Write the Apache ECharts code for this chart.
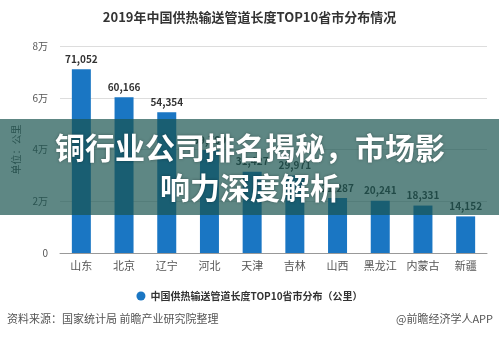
<!DOCTYPE html>
<html>
<head>
<meta charset="utf-8">
<style>
  html, body { margin: 0; padding: 0; background: #fff; }
  #chart { width: 499px; height: 337px; }
</style>
<script src="https://cdn.jsdelivr.net/npm/echarts@6/dist/echarts.min.js"></script>
</head>
<body>
<div id="chart"></div>
<script>
// 2019 heating pipeline length, top 10 provinces (km)
const provinces = ['山东', '北京', '辽宁', '河北', '天津', '吉林', '山西', '黑龙江', '内蒙古', '新疆'];
const pipelineKm = [71052, 60166, 54354, 39760, 31427, 29971, 21287, 20241, 18331, 14152];
const yTicks = [0, 20000, 40000, 60000, 80000];
const yTickLabels = ['0', '2万', '4万', '6万', '8万'];

const FONT = '"Noto Sans CJK SC", "Noto Sans", sans-serif';
const chart = echarts.init(document.getElementById('chart'), null, { renderer: 'canvas' });

chart.setOption({
  backgroundColor: '#ffffff',
  animation: false,
  textStyle: { fontFamily: FONT },
  title: {
    text: '2019年中国供热输送管道长度TOP10省市分布情况',
    left: 'center',
    top: 6,
    textStyle: { fontFamily: FONT, fontSize: 13, fontWeight: 'bold', color: '#333' }
  },
  legend: {
    data: ['中国供热输送管道长度TOP10省市分布（公里）'],
    left: 'center',
    top: 286,
    icon: 'circle',
    itemWidth: 9,
    itemHeight: 9,
    itemGap: 6,
    textStyle: { fontFamily: FONT, fontSize: 10, fontWeight: 'bold', color: '#333' }
  },
  grid: { left: 60, right: 12, top: 46, bottom: 84, containLabel: false },
  xAxis: {
    type: 'category',
    data: provinces,
    axisLine: { lineStyle: { color: '#999' } },
    axisTick: { alignWithLabel: true, length: 4, lineStyle: { color: '#999' } },
    axisLabel: { interval: 0, color: '#555', fontSize: 11, margin: 7, fontFamily: FONT }
  },
  yAxis: {
    type: 'value',
    min: yTicks[0],
    max: yTicks[yTicks.length - 1],
    interval: yTicks[1] - yTicks[0],
    name: '单位：公里',
    nameLocation: 'middle',
    nameRotate: 90,
    nameGap: 38,
    nameTextStyle: { color: '#555', fontSize: 10, fontFamily: FONT },
    axisLine: { show: false },
    axisTick: { show: false },
    splitLine: { lineStyle: { color: '#ddd', width: 1 } },
    axisLabel: {
      color: '#555', fontSize: 10, margin: 12, fontFamily: FONT,
      formatter: v => yTickLabels[yTicks.indexOf(v)]
    }
  },
  series: [{
    name: '中国供热输送管道长度TOP10省市分布（公里）',
    type: 'bar',
    data: pipelineKm,
    barWidth: 19,
    itemStyle: { color: '#1a76c3' },
    label: {
      show: true,
      position: 'top',
      distance: 5,
      color: '#333',
      fontSize: 10,
      fontWeight: 'bold',
      fontFamily: FONT,
      formatter: p => p.value.toLocaleString('en-US')
    }
  }],
  graphic: [
    {
      type: 'text', left: 7, top: 313, silent: true,
      style: { text: '资料来源：国家统计局 前瞻产业研究院整理', fill: '#555', font: '11px ' + FONT }
    },
    {
      type: 'text', right: 6, top: 313, silent: true,
      style: { text: '@前瞻经济学人APP', fill: '#555', font: '11px ' + FONT }
    },
    {
      type: 'rect', z: 100, silent: true,
      shape: { x: 0, y: 119, width: 499, height: 96 },
      style: { fill: 'rgba(26,84,80,0.7)' }
    },
    {
      type: 'text', z: 101, silent: true, x: 250, y: 128,
      style: {
        text: '铜行业公司排名揭秘，市场影\n响力深度解析',
        fill: '#fff',
        font: 'bold 30px ' + FONT,
        lineHeight: 40,
        align: 'center',
        verticalAlign: 'top',
        textShadowColor: 'rgba(0,0,0,0.35)',
        textShadowBlur: 3
      }
    }
  ]
});
</script>
</body>
</html>
